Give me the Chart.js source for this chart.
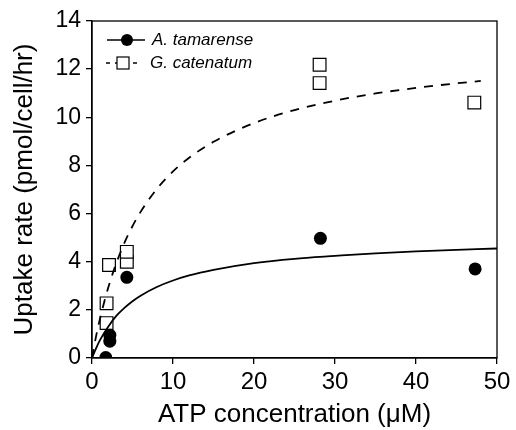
<!DOCTYPE html>
<html>
<head>
<meta charset="utf-8">
<script src="https://cdn.jsdelivr.net/npm/chart.js@4"></script>
<style>
  html, body { margin: 0; padding: 0; background: #fff; }
  #wrap { width: 516px; height: 430px; }
</style>
</head>
<body>
<div id="wrap"><canvas id="grafic" width="516" height="430"></canvas></div>
<script>
// punts mesurats
const atpA = [1.7, 2.2, 2.2, 4.3, 28.2, 47.3];
const uptakeA = [0.02, 0.95, 0.7, 3.35, 4.97, 3.7];
const atpG = [1.8, 1.8, 2.1, 4.3, 4.3, 28.1, 28.1, 47.2];
const uptakeG = [1.45, 2.27, 3.86, 4.0, 4.41, 12.18, 11.42, 10.61];

// corbes ajustades (llegides del grafic)
const fitAx = [0, 0.5, 1, 2, 3, 4, 5, 6, 8, 10, 12, 15, 20, 25, 30, 35, 40, 45, 50];
const fitAy = [0, 0.4, 0.75, 1.3, 1.75, 2.08, 2.36, 2.59, 2.95, 3.22, 3.43, 3.66, 3.94, 4.12, 4.24, 4.35, 4.43, 4.49, 4.55];
const fitGx = [0, 0.5, 1, 2, 3, 4, 5, 6, 8, 10, 12, 15, 20, 25, 30, 35, 40, 45, 48];
const fitGy = [0, 0.9, 1.65, 2.92, 3.94, 4.78, 5.48, 6.07, 7.02, 7.75, 8.32, 8.98, 9.76, 10.3, 10.69, 10.99, 11.22, 11.41, 11.51];

const xTicks = [0, 10, 20, 30, 40, 50];
const yTicks = [0, 2, 4, 6, 8, 10, 12, 14];
const especies = ['A. tamarense', 'G. catenatum'];

const punts = (xs, ys) => xs.map((x, i) => ({ x: x, y: ys[i] }));
const lletra = '"Liberation Sans", Arial, sans-serif';

// marc i llegenda dins del grafic
const marc = {
    id: 'marc',
    afterDraw(chart) {
        const { ctx, chartArea: a } = chart;
        ctx.save();
        ctx.strokeStyle = '#000';
        ctx.lineWidth = 1.3;
        ctx.strokeRect(a.left, a.top, a.right - a.left, a.bottom - a.top);

        // entrada 1
        ctx.lineWidth = 1.5;
        ctx.setLineDash([]);
        ctx.beginPath(); ctx.moveTo(107, 40); ctx.lineTo(145, 40); ctx.stroke();
        ctx.beginPath(); ctx.arc(127, 40, 6, 0, Math.PI * 2); ctx.fillStyle = '#000'; ctx.fill();
        // entrada 2
        ctx.setLineDash([4, 5]);
        ctx.beginPath(); ctx.moveTo(106, 63); ctx.lineTo(141, 63); ctx.stroke();
        ctx.setLineDash([]);
        ctx.fillStyle = '#fff';
        ctx.fillRect(117, 57, 12, 12);
        ctx.lineWidth = 1.2;
        ctx.strokeRect(117, 57, 12, 12);

        ctx.fillStyle = '#000';
        ctx.font = 'italic 17px ' + lletra;
        ctx.textBaseline = 'middle';
        ctx.fillText(especies[0], 152, 40);
        ctx.fillText(especies[1], 150, 63);
        ctx.restore();
    }
};

new Chart(document.getElementById('grafic'), {
    type: 'scatter',
    data: {
        datasets: [
            { data: punts(fitAx, fitAy), showLine: true, pointRadius: 0, borderColor: '#000', borderWidth: 1.8, cubicInterpolationMode: 'monotone' },
            { data: punts(fitGx, fitGy), showLine: true, pointRadius: 0, borderColor: '#000', borderWidth: 1.8, borderDash: [9, 8], cubicInterpolationMode: 'monotone' },
            { label: especies[0], data: punts(atpA, uptakeA), pointStyle: 'circle', pointRadius: 6.5, backgroundColor: '#000', borderColor: '#000', borderWidth: 0 },
            { label: especies[1], data: punts(atpG, uptakeG), pointStyle: 'rect', pointRadius: 9, backgroundColor: '#fff', borderColor: '#000', borderWidth: 1.2 }
        ]
    },
    options: {
        responsive: false,
        animation: false,
        layout: { padding: { top: 21, right: 19, left: 0, bottom: 0 } },
        plugins: { legend: { display: false }, tooltip: { enabled: false } },
        scales: {
            x: {
                type: 'linear', min: 0, max: 50,
                afterBuildTicks: s => { s.ticks = xTicks.map(v => ({ value: v })); },
                afterFit: s => { s.height = 72; },
                grid: { drawOnChartArea: false, drawTicks: true, tickLength: 6, color: '#000', lineWidth: 1.3 },
                border: { display: true, color: '#000', width: 1.3 },
                ticks: { color: '#000', padding: 4, maxRotation: 0, font: { family: lletra, size: 24 } },
                title: { display: true, text: 'ATP concentration (μM)', color: '#000', padding: { top: 2, bottom: 0 }, font: { family: lletra, size: 26 } }
            },
            y: {
                type: 'linear', min: 0, max: 14,
                afterBuildTicks: s => { s.ticks = yTicks.map(v => ({ value: v })); },
                afterFit: s => { s.width = 92; },
                grid: { drawOnChartArea: false, drawTicks: true, tickLength: 6, color: '#000', lineWidth: 1.3 },
                border: { display: true, color: '#000', width: 1.3 },
                ticks: { color: '#000', padding: 5, font: { family: lletra, size: 23 } },
                title: { display: true, text: 'Uptake rate (pmol/cell/hr)', color: '#000', padding: { top: 9, bottom: 0 }, font: { family: lletra, size: 26 } }
            }
        }
    },
    plugins: [marc]
});
</script>
</body>
</html>
